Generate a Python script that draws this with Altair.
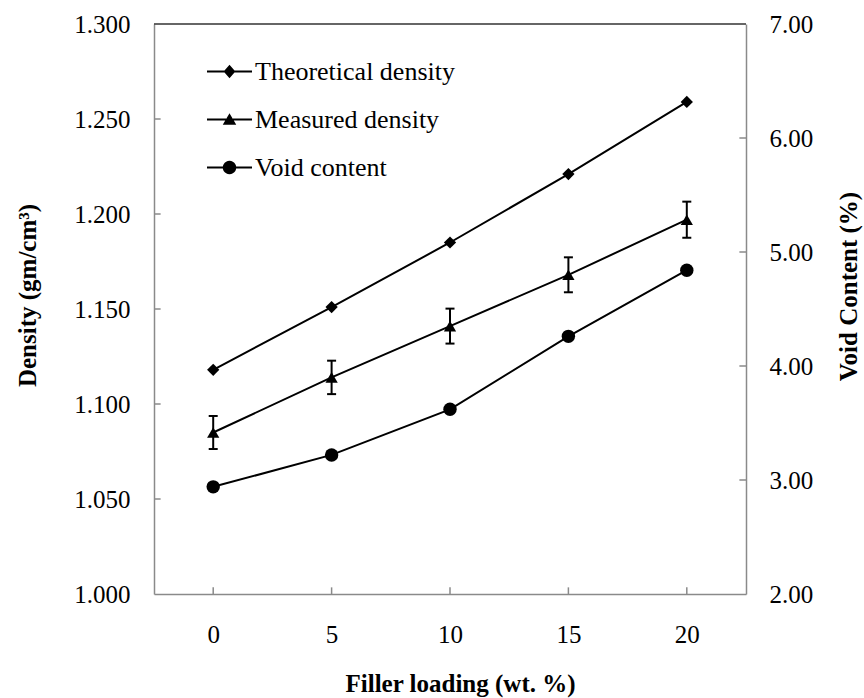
import math
import altair as alt
import pandas as pd

# ---- data ----
loading = [0, 5, 10, 15, 20]
theoretical = [1.118, 1.151, 1.185, 1.221, 1.259]
measured = [1.085, 1.114, 1.141, 1.168, 1.197]
measured_err = [0.0087, 0.0088, 0.0092, 0.0092, 0.0095]
void_content = [2.94, 3.22, 3.62, 4.26, 4.84]
series_names = ["Theoretical density", "Measured density", "Void content"]
x_ticks = [0, 5, 10, 15, 20]
left_ticks = [1.000, 1.050, 1.100, 1.150, 1.200, 1.250, 1.300]
right_ticks = [2, 3, 4, 5, 6, 7]

FONT = "Liberation Serif, Times New Roman, Times, serif"
GRAY = "#8a8a8a"

df = pd.DataFrame({"x": loading, "theo": theoretical, "meas": measured,
                   "err": measured_err, "void": void_content})
df["lo"] = df["meas"] - df["err"]
df["hi"] = df["meas"] + df["err"]

x_scale = alt.Scale(domain=[-2.5, 22.5], nice=False, zero=False)
x_axis = alt.Axis(values=x_ticks, format="d", tickSize=0, labelPadding=28,
                  labelFont=FONT, labelFontSize=25, labelColor="black", domainColor=GRAY,
                  domainWidth=1.5, grid=False, title="Filler loading (wt. %)",
                  titleFont=FONT, titleFontSize=25, titleFontWeight="bold",
                  titleColor="black", titleX=306, titleY=89, titleBaseline="middle",
                  titleAlign="center")

yl_scale = alt.Scale(domain=[1.0, 1.3], nice=False, zero=False)
yl_axis = alt.Axis(values=left_ticks, format=".3f", tickSize=0, labelPadding=24,
                   labelFont=FONT, labelFontSize=25, labelColor="black", domainColor=GRAY,
                   domainWidth=1.5, grid=False, title="Density (gm/cm³)",
                   titleFont=FONT, titleFontSize=25, titleFontWeight="bold",
                   titleColor="black", titleAngle=270, titleX=-127, titleY=271,
                   titleBaseline="middle", titleAlign="center")

yr_scale = alt.Scale(domain=[2, 7], nice=False, zero=False)
yr_axis = alt.Axis(orient="right", values=right_ticks, format=".2f", tickSize=0,
                   labelPadding=23, labelFont=FONT, labelFontSize=25, labelColor="black",
                   domainColor=GRAY, domainWidth=1.5, grid=False,
                   title="Void Content (%)", titleFont=FONT, titleFontSize=25,
                   titleFontWeight="bold", titleColor="black", titleAngle=270,
                   titleX=102, titleY=262, titleBaseline="middle", titleAlign="center")


def X(field):
    return alt.X(field, type="quantitative", scale=x_scale, axis=x_axis)


def XD(v):
    return alt.XDatum(datum=v, type="quantitative", scale=x_scale, axis=x_axis)


def YL(field):
    return alt.Y(field, type="quantitative", scale=yl_scale, axis=yl_axis)


def YLD(v):
    return alt.YDatum(datum=v, type="quantitative", scale=yl_scale, axis=yl_axis)


def YR(field):
    return alt.Y(field, type="quantitative", scale=yr_scale, axis=yr_axis)


base = alt.Chart(df)

theo_line = base.mark_line(color="black", strokeWidth=2).encode(x=X("x"), y=YL("theo"))
theo_pts = base.mark_point(shape="diamond", filled=True, color="black", size=150,
                           opacity=1).encode(x=X("x"), y=YL("theo"))
meas_line = base.mark_line(color="black", strokeWidth=2).encode(x=X("x"), y=YL("meas"))
meas_err_rule = base.mark_rule(color="black", strokeWidth=2).encode(
    x=X("x"), y=YL("lo"), y2="hi")
meas_cap_lo = base.mark_tick(orient="horizontal", color="black", size=9, thickness=2,
                             opacity=1).encode(x=X("x"), y=YL("lo"))
meas_cap_hi = base.mark_tick(orient="horizontal", color="black", size=9, thickness=2,
                             opacity=1).encode(x=X("x"), y=YL("hi"))
meas_pts = base.mark_point(shape="triangle-up", filled=True, color="black", size=150,
                           opacity=1).encode(x=X("x"), y=YL("meas"))

# inward tick marks
lt = alt.Chart(pd.DataFrame({"v": left_ticks[1:-1]})).mark_rule(
    color=GRAY, strokeWidth=1.5).encode(y=YL("v"), x=XD(-2.5), x2=alt.X2Datum(datum=-2.22))
xt = alt.Chart(pd.DataFrame({"t": x_ticks})).mark_rule(
    color=GRAY, strokeWidth=1.5).encode(x=X("t"), y=YLD(1.0), y2=alt.Y2Datum(datum=1.0035))
top_border = alt.Chart(pd.DataFrame({"a": [0]})).mark_rule(
    color="#333333", strokeWidth=1.5).encode(x=XD(-2.5), x2=alt.X2Datum(datum=22.5),
                                             y=YLD(1.3))

# legend (line + marker symbols; line drawn as two thin filled bars around the marker)
BAR = ("M-1,-0.045L-0.15,-0.045L-0.15,0.045L-1,0.045Z"
       "M0.15,-0.045L1,-0.045L1,0.045L0.15,0.045Z")
_r = 0.3
CIRCLE = "M" + "L".join(
    f"{_r * math.cos(2 * math.pi * k / 24):.3f},{_r * math.sin(2 * math.pi * k / 24):.3f}"
    for k in range(24)) + "Z"
legend_paths = [
    BAR + "M0,-0.3L0.26,0L0,0.3L-0.26,0Z",
    BAR + "M0,-0.28L0.3,0.23L-0.3,0.23Z",
    BAR + CIRCLE,
]
legend_layer = alt.Chart(pd.DataFrame({"series": series_names})).transform_filter(
    "false").mark_point(filled=True, color="black").encode(
    shape=alt.Shape("series:N", sort=series_names,
                    scale=alt.Scale(domain=series_names, range=legend_paths),
                    legend=alt.Legend(orient="none", legendX=53, legendY=25, title=None,
                                      labelFont=FONT, labelFontSize=26, labelColor="black",
                                      labelOffset=3, symbolSize=2025, symbolStrokeWidth=0,
                                      symbolFillColor="black", symbolStrokeColor="black",
                                      symbolOpacity=1, rowPadding=12, padding=0,
                                      labelLimit=500)))

left = alt.layer(top_border, lt, xt, theo_line, meas_line, meas_err_rule, meas_cap_lo,
                 meas_cap_hi, theo_pts, meas_pts, legend_layer)

rt = alt.Chart(pd.DataFrame({"v": right_ticks[1:-1]})).mark_rule(
    color=GRAY, strokeWidth=1.5).encode(y=YR("v"), x=XD(22.22), x2=alt.X2Datum(datum=22.5))
void_line = base.mark_line(color="black", strokeWidth=2).encode(x=X("x"), y=YR("void"))
void_pts = base.mark_point(shape="circle", filled=True, color="black", size=180,
                           opacity=1).encode(x=X("x"), y=YR("void"))
right = alt.layer(rt, void_line, void_pts)

chart = alt.layer(left, right).resolve_scale(y="independent").properties(
    width=592, height=570,
    autosize=alt.AutoSizeParams(type="none"),
    padding={"left": 154, "top": 24, "right": 118, "bottom": 104},
    background="white",
).configure_view(stroke=None).configure_axis(
    labelFont=FONT, titleFont=FONT).configure_legend(labelFont=FONT)

chart.save("out.html", embed_options={"renderer": "svg", "actions": False})
